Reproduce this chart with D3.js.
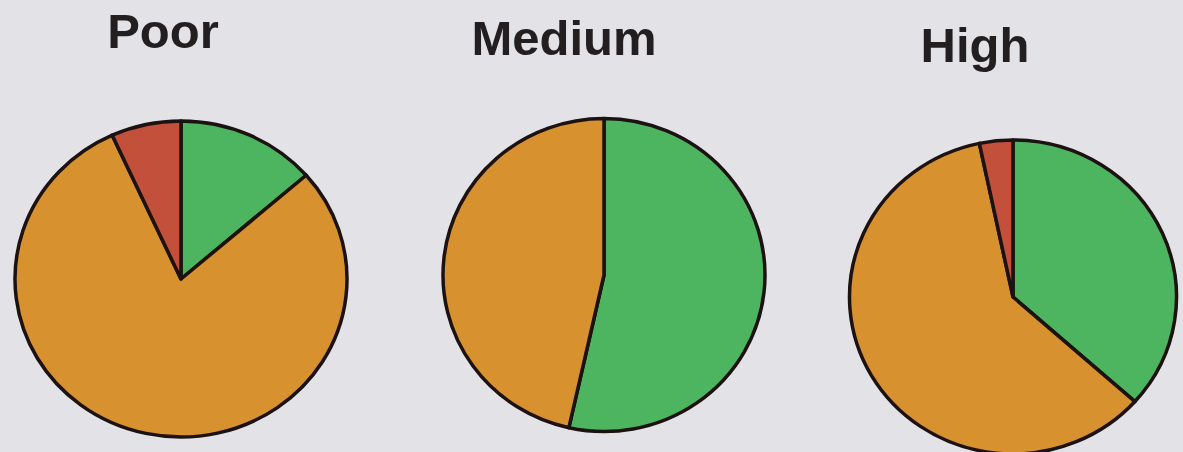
<!DOCTYPE html>
<html>
<head>
<meta charset="utf-8">
<script src="https://cdn.jsdelivr.net/npm/d3@7/dist/d3.min.js"></script>
<style>
  html, body { margin: 0; padding: 0; background: #e3e3e7; }
  svg { display: block; }
</style>
</head>
<body>
<script>
// Share of each class within the three groups (percent)
const groups = ["Poor", "Medium", "High"];
const categories = ["Green", "Orange", "Red"];
const greenShare  = [13.6, 53.5, 36.6];
const orangeShare = [79.6, 46.5, 60.1];
const redShare    = [6.8, 0, 3.3];

const colors = ["#4db55f", "#d8912f", "#c2503a"];

const W = 1183, H = 452;
const svg = d3.select("body").append("svg").attr("width", W).attr("height", H);

// Pie geometry (centre, vertical radius, horizontal stretch) and title placement
const layout = [
  { cx: 181,  cy: 279, r: 158,   sx: 166 / 158,   tx: 163, ty: 48 },
  { cx: 604,  cy: 275, r: 156.5, sx: 161 / 156.5, tx: 564, ty: 55 },
  { cx: 1013, cy: 297, r: 157,   sx: 163.5 / 157, tx: 975, ty: 62 }
];

const color = d3.scaleOrdinal().domain(categories).range(colors);
const pie = d3.pie().sort(null).value(d => d.value);

groups.forEach((g, i) => {
  const L = layout[i];
  const data = categories.map((c, k) => ({
    key: c,
    value: [greenShare, orangeShare, redShare][k][i]
  }));
  const arc = d3.arc().innerRadius(0).outerRadius(L.r);

  const gp = svg.append("g")
    .attr("transform", `translate(${L.cx},${L.cy}) scale(${L.sx},1)`);

  gp.selectAll("path")
    .data(pie(data).filter(d => d.data.value > 0))
    .join("path")
    .attr("d", arc)
    .attr("fill", d => color(d.data.key))
    .attr("stroke", "#1c1212")
    .attr("stroke-width", 3.5)
    .attr("stroke-linejoin", "round")
    .attr("vector-effect", "non-scaling-stroke");

  svg.append("text")
    .attr("x", L.tx)
    .attr("y", L.ty)
    .attr("text-anchor", "middle")
    .attr("font-family", "Liberation Sans, Arial, sans-serif")
    .attr("font-weight", "bold")
    .attr("font-size", 49)
    .attr("fill", "#231f20")
    .text(g);
});
</script>
</body>
</html>
